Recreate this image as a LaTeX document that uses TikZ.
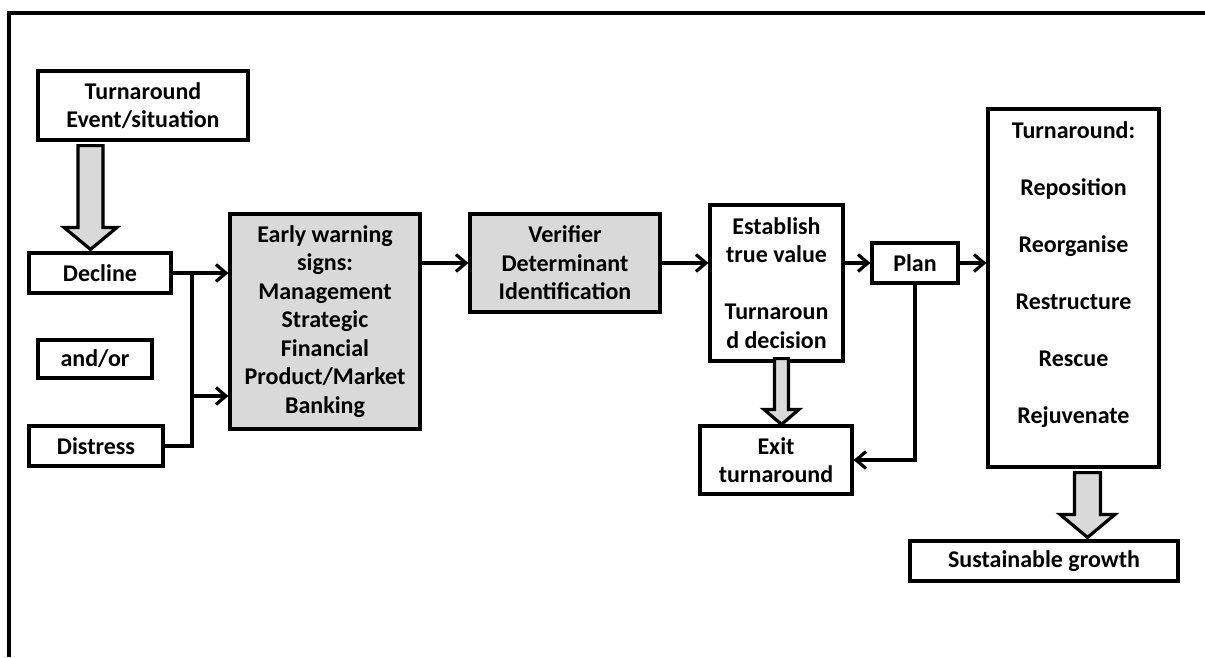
\documentclass[tikz,border=0pt]{standalone}
\usepackage{fontspec}
\setmainfont{Carlito}
\usepackage{tikz}
\usetikzlibrary{arrows.meta,calc}
\definecolor{boxgrey}{RGB}{217,217,217}
\tikzset{
    plain-box/.style = {draw=black, fill=white, line width=3.2pt, rectangle, inner sep=0pt, align=center, font=\fontsize{24}{28.5}\selectfont\bfseries},
    grey-box/.style = {plain-box, fill=boxgrey},
    plain-line/.style = {line width=3.2pt},
    line-arrow/.style = {plain-line, -{Straight Barb[length=10pt, width=17pt]}},
    fat-arrow/.style = {draw=black, fill=boxgrey, line width=3.2pt, line join=miter},
}
% fat arrow: from, to, x shift of tip, half shaft, half head, head length
\newcommand{\fatarrow}[6]{%
  \draw[fat-arrow] let \p1=(#1), \p2=(#2) in
    (\x2+#3-#4,\y1) -- (\x2+#3+#4,\y1) -- (\x2+#3+#4,\y2+#6) -- (\x2+#3+#5,\y2+#6)
    -- (\x2+#3,\y2) -- (\x2+#3-#5,\y2+#6) -- (\x2+#3-#4,\y2+#6) -- cycle;}

\begin{document}
\begin{tikzpicture}[x=1pt, y=-1pt]
\useasboundingbox (0,0) rectangle (1205,657);
\draw[plain-line] (1205,13) -| (9,657);

\node[plain-box, minimum width=210pt, minimum height=69pt] (event) at (143,105.5) {Turnaround\\Event/situation};
\node[plain-box, minimum width=142pt, minimum height=40pt] (decline) at (100,273) {Decline};
\node[plain-box, minimum width=114pt, minimum height=38pt] (andor) at (95,359) {and/or};
\node[plain-box, minimum width=134pt, minimum height=40pt] (distress) at (96,446) {Distress};
\node[grey-box, minimum width=190pt, minimum height=215pt] (warning) at (325,321.5) {Early warning\\signs:\\Management\\Strategic\\Financial\\Product/Market\\Banking};
\node[grey-box, minimum width=190pt, minimum height=98pt] (verifier) at (565,263) {Verifier\\Determinant\\Identification};
\node[plain-box, minimum width=133pt, minimum height=156pt] (establish) at (776.5,283) {Establish\\true value\\[28.5pt]Turnaroun\\d decision};
\node[plain-box, minimum width=86pt, minimum height=40pt] (plan) at (915,263) {Plan};
\node[plain-box, minimum width=152pt, minimum height=68pt] (exit) at (776,460) {Exit\\turnaround};
\node[plain-box] (actions) at (1073.5,288) {\begin{minipage}[c][358pt][t]{171pt}\centering\vspace*{13pt}
    Turnaround:\\[28.5pt]Reposition\\[28.5pt]Reorganise\\[28.5pt]Restructure\\[28.5pt]Rescue\\[28.5pt]Rejuvenate
\end{minipage}};
\node[plain-box, minimum width=268pt, minimum height=40pt] (growth) at (1044,561) {Sustainable growth};

% connectors
\coordinate (split) at (192,396);
\draw[line-arrow] (decline.east) -- (decline.east -| warning.west);
\draw[plain-line] (distress.east) -| (split |- decline.east);
\draw[line-arrow] (split) -- (split -| warning.west);
\draw[line-arrow] (warning.east |- verifier.west) -- (verifier.west);
\draw[line-arrow] (verifier.east) -- (verifier.east -| establish.west);
\draw[line-arrow] (establish.east |- plan.west) -- (plan.west);
\draw[line-arrow] (plan.east) -- (plan.east -| actions.west);
\draw[line-arrow] (plan.south) |- (exit.east);

\fatarrow{[yshift=-4pt]event.south}{[yshift=2pt]decline.north}{-9.5pt}{12.5pt}{26.5pt}{22pt}
\fatarrow{[yshift=4pt]establish.south}{exit.north}{5.5pt}{7pt}{17.5pt}{15pt}
\fatarrow{[yshift=-4pt]actions.south}{[yshift=2pt]growth.north}{43.5pt}{13pt}{27.5pt}{23pt}
\end{tikzpicture}
\end{document}
